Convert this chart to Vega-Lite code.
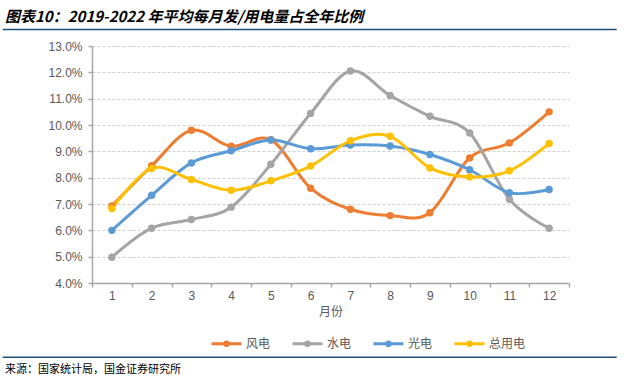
{
  "$schema": "https://vega.github.io/schema/vega-lite/v6.json",
  "width": 477,
  "height": 237,
  "autosize": {"type": "none"},
  "padding": {"left": 92, "top": 46, "right": 69, "bottom": 101},
  "background": "white",
  "title": {
    "text": "图表10：2019-2022 年平均每月发/用电量占全年比例",
    "anchor": "start",
    "frame": "group",
    "dx": -87,
    "offset": 4,
    "font": "Noto Sans CJK SC",
    "fontSize": 15,
    "fontWeight": "bold",
    "fontStyle": "italic",
    "color": "#000000"
  },
  "config": {
    "view": {"stroke": null},
    "axis": {"labelFont": "Liberation Sans", "titleFont": "Noto Sans CJK SC"},
    "axisY": {
      "title": null,
      "labelExpr": "format(datum.value, '.1f') + '%'",
      "labelOverlap": false,
      "labelBound": false,
      "grid": true,
      "gridColor": "#D0D0D0",
      "gridDash": [3, 2],
      "domainColor": "#A6A6A6",
      "domainWidth": 1.5,
      "tickColor": "#A6A6A6",
      "tickWidth": 1.5,
      "tickSize": 4,
      "labelPadding": 6,
      "labelColor": "#595959",
      "labelFontSize": 12
    },
    "axisX": {
      "labelAngle": 0,
      "grid": false,
      "domainColor": "#A6A6A6",
      "domainWidth": 1.5,
      "tickColor": "#A6A6A6",
      "tickWidth": 1.5,
      "tickSize": 4,
      "labelColor": "#595959",
      "labelFontSize": 12,
      "labelPadding": 3,
      "labelOverlap": false,
      "titleFontSize": 12,
      "titleFontWeight": "normal",
      "titleColor": "#595959",
      "titlePadding": 5
    }
  },
  "layer": [
    {
      "data": {
        "values": [
          {"month": 1, "series": "风电", "value": 6.93},
          {"month": 2, "series": "风电", "value": 8.45},
          {"month": 3, "series": "风电", "value": 9.8},
          {"month": 4, "series": "风电", "value": 9.19},
          {"month": 5, "series": "风电", "value": 9.44},
          {"month": 6, "series": "风电", "value": 7.6},
          {"month": 7, "series": "风电", "value": 6.8},
          {"month": 8, "series": "风电", "value": 6.56},
          {"month": 9, "series": "风电", "value": 6.67},
          {"month": 10, "series": "风电", "value": 8.75},
          {"month": 11, "series": "风电", "value": 9.32},
          {"month": 12, "series": "风电", "value": 10.5},
          {"month": 1, "series": "水电", "value": 4.98},
          {"month": 2, "series": "水电", "value": 6.08},
          {"month": 3, "series": "水电", "value": 6.41},
          {"month": 4, "series": "水电", "value": 6.88},
          {"month": 5, "series": "水电", "value": 8.51},
          {"month": 6, "series": "水电", "value": 10.44},
          {"month": 7, "series": "水电", "value": 12.05},
          {"month": 8, "series": "水电", "value": 11.12},
          {"month": 9, "series": "水电", "value": 10.33},
          {"month": 10, "series": "水电", "value": 9.7},
          {"month": 11, "series": "水电", "value": 7.18},
          {"month": 12, "series": "水电", "value": 6.08},
          {"month": 1, "series": "光电", "value": 6.0},
          {"month": 2, "series": "光电", "value": 7.33},
          {"month": 3, "series": "光电", "value": 8.56},
          {"month": 4, "series": "光电", "value": 9.02},
          {"month": 5, "series": "光电", "value": 9.43},
          {"month": 6, "series": "光电", "value": 9.1},
          {"month": 7, "series": "光电", "value": 9.24},
          {"month": 8, "series": "光电", "value": 9.2},
          {"month": 9, "series": "光电", "value": 8.88},
          {"month": 10, "series": "光电", "value": 8.3},
          {"month": 11, "series": "光电", "value": 7.43},
          {"month": 12, "series": "光电", "value": 7.55},
          {"month": 1, "series": "总用电", "value": 6.83},
          {"month": 2, "series": "总用电", "value": 8.35},
          {"month": 3, "series": "总用电", "value": 7.93},
          {"month": 4, "series": "总用电", "value": 7.52},
          {"month": 5, "series": "总用电", "value": 7.88},
          {"month": 6, "series": "总用电", "value": 8.44},
          {"month": 7, "series": "总用电", "value": 9.4},
          {"month": 8, "series": "总用电", "value": 9.57},
          {"month": 9, "series": "总用电", "value": 8.37},
          {"month": 10, "series": "总用电", "value": 8.03},
          {"month": 11, "series": "总用电", "value": 8.26},
          {"month": 12, "series": "总用电", "value": 9.3}
        ]
      },
      "encoding": {
        "x": {
          "field": "month",
          "type": "ordinal",
          "bandPosition": 0.5,
          "scale": {"type": "band", "paddingInner": 0, "paddingOuter": 0},
          "axis": {"title": "月份", "tickBand": "extent"}
        },
        "y": {
          "field": "value",
          "type": "quantitative",
          "scale": {"domain": [4, 13], "nice": false, "zero": false},
          "axis": {"values": [4, 5, 6, 7, 8, 9, 10, 11, 12, 13]}
        },
        "color": {
          "field": "series",
          "type": "nominal",
          "scale": {
            "domain": ["风电", "水电", "光电", "总用电"],
            "range": ["#ED7D31", "#A5A5A5", "#5B9BD5", "#FFC000"]
          },
          "legend": {
            "orient": "none",
            "legendX": 118,
            "legendY": 281,
            "direction": "horizontal",
            "title": null,
            "symbolType": "M-1,0H1M-0.12,0A0.12,0.12,0,1,1,0.12,0A0.12,0.12,0,1,1,-0.12,0",
            "symbolSize": 900,
            "symbolStrokeWidth": 3,
            "labelFont": "Noto Sans CJK SC",
            "labelFontSize": 12,
            "labelColor": "#595959",
            "labelOffset": 3,
            "columnPadding": 15,
            "padding": 0
          }
        }
      },
      "layer": [
        {"mark": {"type": "line", "interpolate": "cardinal", "strokeWidth": 3}},
        {"mark": {"type": "point", "filled": true, "size": 55, "opacity": 1}}
      ]
    },
    {
      "data": {"values": [{"part": "header"}]},
      "mark": {"type": "rule", "color": "#1F4E79", "strokeWidth": 1.5},
      "encoding": {
        "x": {"datum": -0.187, "type": "quantitative", "scale": {"domain": [0, 1]}, "axis": null},
        "x2": {"datum": 1.1},
        "y": {"datum": 13.63, "type": "quantitative", "scale": {"domain": [4, 13], "nice": false, "zero": false}, "axis": {"values": [4, 5, 6, 7, 8, 9, 10, 11, 12, 13]}}
      }
    },
    {
      "data": {"values": [{"part": "footer"}]},
      "mark": {"type": "rule", "color": "#1F4E79", "strokeWidth": 1.5},
      "encoding": {
        "x": {"datum": -0.187, "type": "quantitative", "scale": {"domain": [0, 1]}, "axis": null},
        "x2": {"datum": 1.1},
        "y": {"datum": 1.18, "type": "quantitative", "scale": {"domain": [4, 13], "nice": false, "zero": false}, "axis": {"values": [4, 5, 6, 7, 8, 9, 10, 11, 12, 13]}}
      }
    },
    {
      "data": {"values": [{"source": "来源：国家统计局，国金证券研究所"}]},
      "mark": {"type": "text", "align": "left", "baseline": "middle", "font": "Noto Sans CJK SC", "fontSize": 11, "color": "#000000"},
      "encoding": {
        "text": {"field": "source"},
        "x": {"datum": -0.1824, "type": "quantitative", "scale": {"domain": [0, 1]}, "axis": null},
        "y": {"datum": 0.7, "type": "quantitative", "scale": {"domain": [4, 13], "nice": false, "zero": false}, "axis": {"values": [4, 5, 6, 7, 8, 9, 10, 11, 12, 13]}}
      }
    }
  ],
  "resolve": {"scale": {"x": "independent"}}
}
